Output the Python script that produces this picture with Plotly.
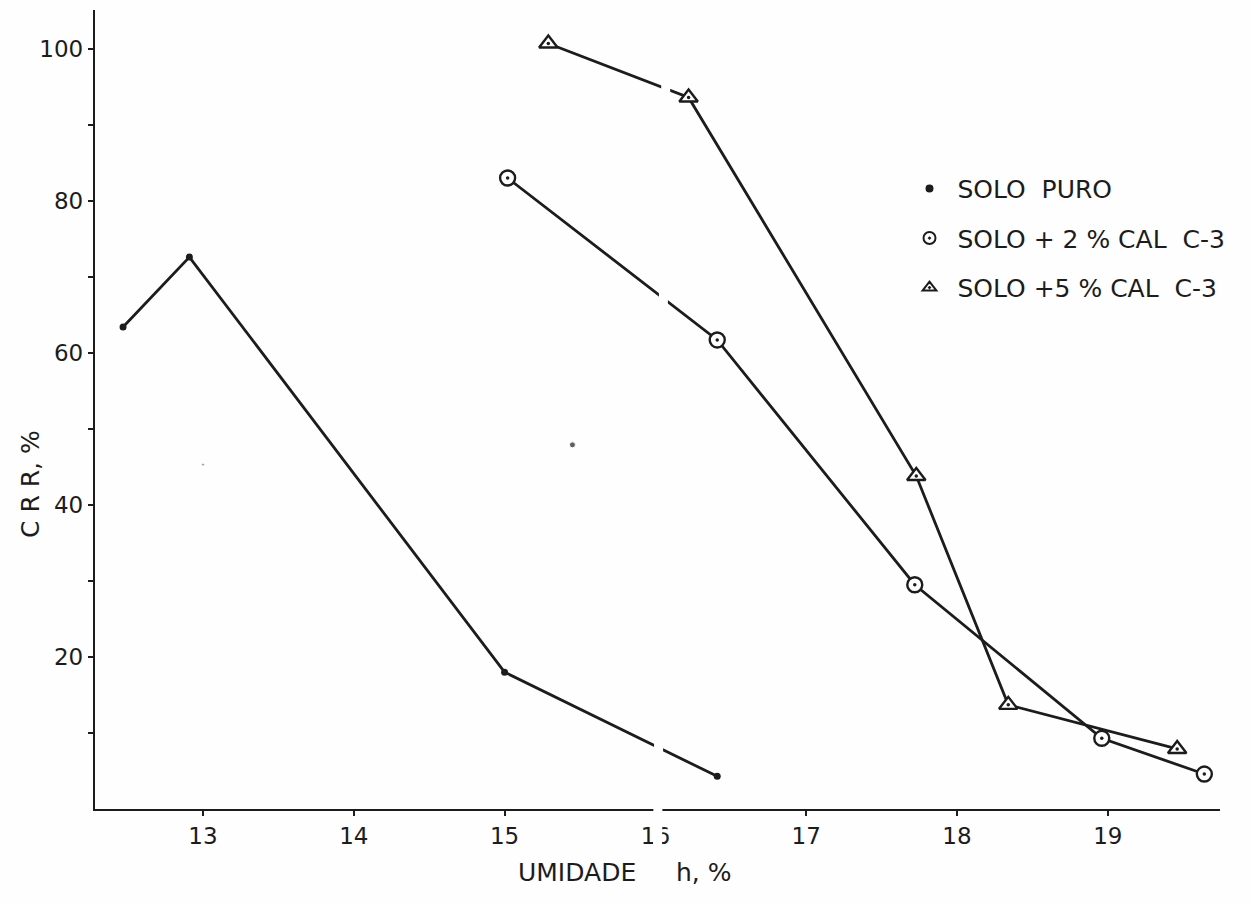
import plotly.graph_objects as go

# Umidade h (%) e CRR (%) de cada mistura
h_puro = [12.47, 12.91, 15.00, 16.41]
crr_puro = [63.4, 72.6, 18.0, 4.3]

h_cal2 = [15.02, 16.41, 17.72, 18.96, 19.64]
crr_cal2 = [83.0, 61.7, 29.5, 9.3, 4.6]

h_cal5 = [15.29, 16.22, 17.73, 18.34, 19.46]
crr_cal5 = [100.7, 93.6, 43.8, 13.7, 7.9]

# pontos avulsos marcados no papel
h_avulsos = [15.45, 13.00]
crr_avulsos = [47.9, 45.3]

x_ticks = [13, 14, 15, 16, 17, 18, 19]
y_ticks = [10, 20, 30, 40, 50, 60, 70, 80, 90, 100]
y_labels = [str(v) if v % 20 == 0 else "" for v in y_ticks]

nomes = [" SOLO  PURO", " SOLO + 2 % CAL  C-3", " SOLO +5 % CAL  C-3"]

INK = "#1c1c1c"
BG = "#fefefe"
FONT = "DejaVu Sans"

fig = go.Figure()

# curvas
fig.add_trace(go.Scatter(
    x=h_puro, y=crr_puro, mode="lines+markers", showlegend=False,
    line=dict(color=INK, width=2.8),
    marker=dict(symbol="circle", size=7, color=INK),
))
fig.add_trace(go.Scatter(
    x=h_cal2, y=crr_cal2, mode="lines+markers", showlegend=False,
    line=dict(color=INK, width=2.8),
    marker=dict(symbol="circle", size=15, color=BG, line=dict(color=INK, width=2.4)),
))
fig.add_trace(go.Scatter(
    x=h_cal5, y=crr_cal5, mode="lines+markers", showlegend=False,
    line=dict(color=INK, width=2.8),
    marker=dict(symbol="triangle-up", size=16, color=BG, line=dict(color=INK, width=2.4)),
))
# ponto central dos símbolos abertos
fig.add_trace(go.Scatter(
    x=h_cal2 + h_cal5, y=crr_cal2 + crr_cal5, mode="markers", showlegend=False,
    marker=dict(symbol="circle", size=3.5, color=INK),
))
# pontos avulsos
fig.add_trace(go.Scatter(
    x=h_avulsos, y=crr_avulsos, mode="markers", showlegend=False,
    marker=dict(symbol="circle", size=[6, 3], color=[INK, "#777777"]),
))

# entradas da legenda
for i, (nome, simb, tam) in enumerate(zip(
        nomes, ["circle", "circle-open-dot", "triangle-up-open-dot"], [6, 12, 12])):
    fig.add_trace(go.Scatter(
        x=[None], y=[None], mode="markers", name=nome, legendgroup=f"g{i}",
        marker=dict(symbol=simb, size=tam, color=INK, line=dict(color=INK, width=2)),
    ))

axis_common = dict(
    showgrid=False, zeroline=False, showline=True, linecolor=INK, linewidth=2.4,
    ticks="outside", ticklen=5, tickwidth=1.6, tickcolor=INK,
    tickfont=dict(family=FONT, size=23, color=INK),
)

fig.update_layout(
    width=1252, height=904,
    margin=dict(l=95, r=32, t=10, b=95),
    paper_bgcolor=BG, plot_bgcolor=BG,
    xaxis=dict(range=[12.284, 19.744], tickmode="array", tickvals=x_ticks,
               ticktext=[str(v) for v in x_ticks], **axis_common),
    yaxis=dict(range=[0, 105.1], tickmode="array", tickvals=y_ticks,
               ticktext=y_labels, **axis_common),
    legend=dict(x=0.724, y=0.805, xanchor="left", yanchor="top",
                bgcolor="rgba(0,0,0,0)", tracegroupgap=14,
                font=dict(family=FONT, size=25, color=INK)),
    font=dict(family=FONT, color=INK),
)

# títulos dos eixos
fig.add_annotation(text="UMIDADE     h, %", xref="paper", yref="paper",
                   x=(624 - 95) / 1125, y=(809 - 872) / 799,
                   xanchor="center", yanchor="middle", showarrow=False,
                   font=dict(family=FONT, size=25, color=INK))
fig.add_annotation(text="C R R, %", xref="paper", yref="paper",
                   x=(30 - 95) / 1125, y=(809 - 484) / 799, textangle=-90,
                   xanchor="center", yanchor="middle", showarrow=False,
                   font=dict(family=FONT, size=25, color=INK))

# dobra do papel que interrompe as linhas perto de h = 16
fig.add_shape(type="path", xref="x", yref="paper", layer="above",
              path="M 15.984,-0.045 L 16.044,-0.045 L 16.104,1.0 L 16.044,1.0 Z",
              fillcolor=BG, line=dict(width=0))

fig.write_html("out.html")
